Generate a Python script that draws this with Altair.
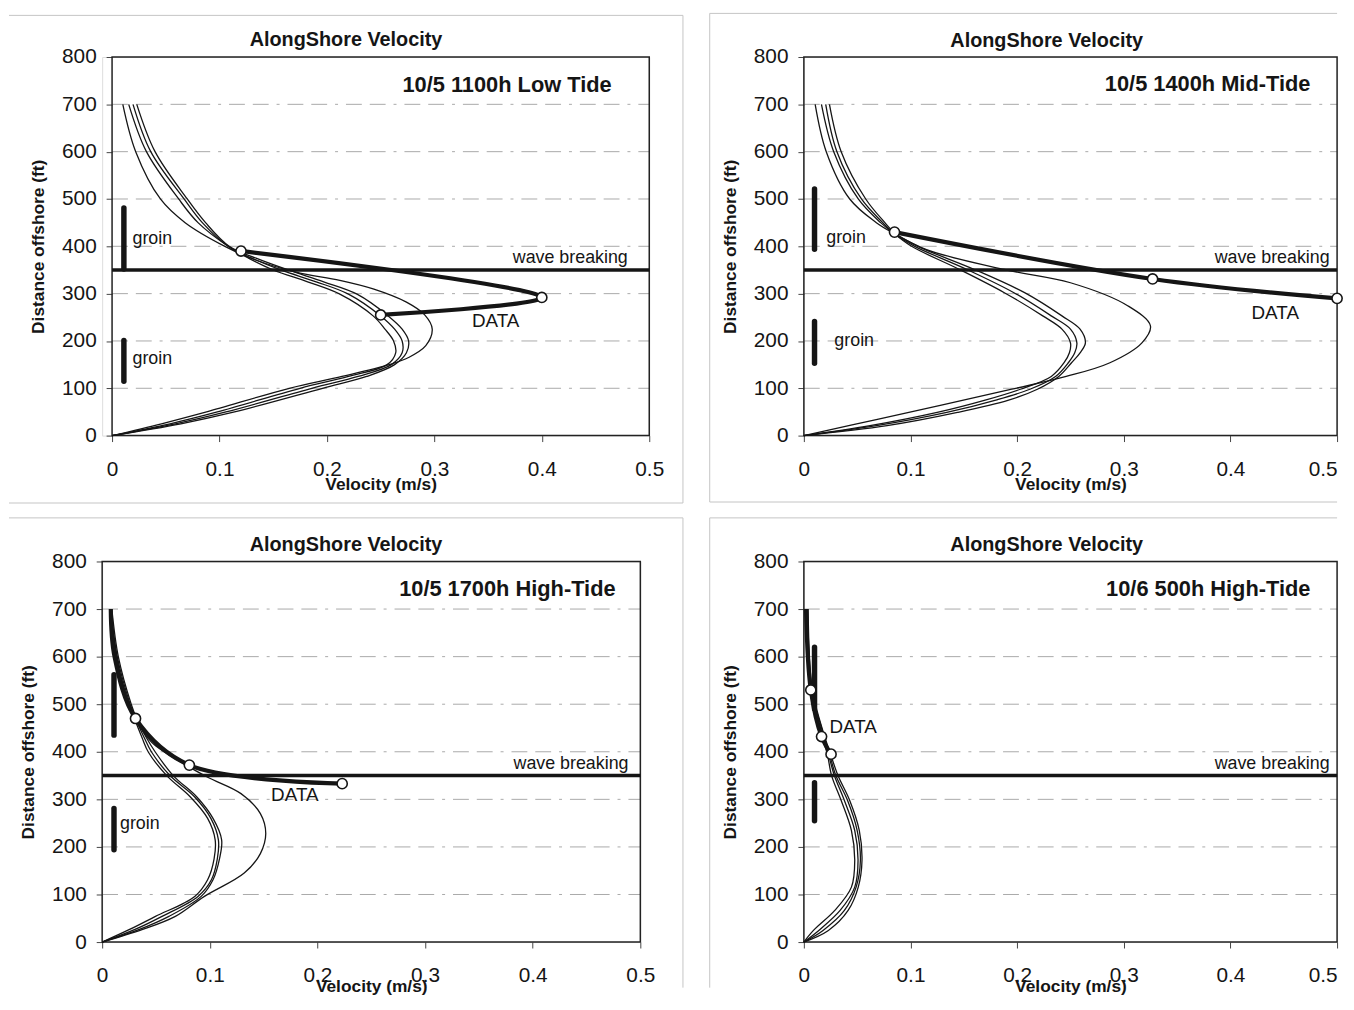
import altair as alt
import pandas as pd

FONT = "Liberation Sans"

# ---------------- data ----------------
GRID_D = [100, 200, 300, 400, 500, 600, 700]
X_TICKS = [0, 0.1, 0.2, 0.3, 0.4, 0.5]
Y_TICKS = [0, 100, 200, 300, 400, 500, 600, 700, 800]
WAVE_D = 350

# Panel 1 : 10/5 1100h Low Tide
P1_ABC_D = [0, 25, 50, 100, 125, 150, 175, 200, 225, 253, 299, 325, 350, 375, 400, 450, 500, 600, 700]
P1_A_V = [0, 0.054, 0.098, 0.175, 0.220, 0.256, 0.264, 0.262, 0.254, 0.243, 0.212, 0.182, 0.150, 0.127, 0.108, 0.080, 0.062, 0.032, 0.0155]
P1_B_V = [0, 0.059, 0.106, 0.186, 0.229, 0.260, 0.270, 0.270, 0.263, 0.250, 0.220, 0.190, 0.157, 0.130, 0.108, 0.084, 0.067, 0.036, 0.0195]
P1_C_V = [0, 0.064, 0.114, 0.196, 0.237, 0.263, 0.274, 0.276, 0.270, 0.257, 0.228, 0.197, 0.164, 0.134, 0.109, 0.087, 0.070, 0.040, 0.023]
P1_X_D = [0, 25, 50, 100, 125, 150, 165, 190, 225, 255, 282, 310, 328, 345, 370, 400, 450, 500, 600, 700]
P1_X_V = [0, 0.046, 0.088, 0.165, 0.214, 0.258, 0.276, 0.292, 0.298, 0.291, 0.274, 0.243, 0.212, 0.172, 0.135, 0.105, 0.068, 0.045, 0.022, 0.010]
P1_DATA_V = [0.12, 0.40, 0.25]
P1_DATA_D = [390, 292, 255]
P1_DATA_M = [True, True, True]
P1_GROIN_V = [0.011, 0.011]
P1_GROIN_LO = [352, 115]
P1_GROIN_HI = [481, 201]
P1_HEAD = "10/5 1100h Low Tide"
P1_HEAD_POS = (0.465, 741)
P1_WAVE_POS = (0.48, 375)
P1_DATA_LBL = (0.357, 243, "center")
P1_GROIN_LBL_V = [0.019, 0.019]
P1_GROIN_LBL_D = [415, 161]

# Panel 2 : 10/5 1400h Mid-Tide
P2_ABC_D = [0, 21, 49, 75, 98, 125, 154, 175, 196, 225, 253, 302, 351, 400, 428, 450, 500, 600, 700]
P2_A_V = [0, 0.062, 0.125, 0.170, 0.203, 0.232, 0.244, 0.249, 0.250, 0.242, 0.224, 0.188, 0.146, 0.101, 0.084, 0.072, 0.051, 0.028, 0.0165]
P2_B_V = [0, 0.068, 0.134, 0.180, 0.212, 0.236, 0.248, 0.254, 0.256, 0.250, 0.232, 0.197, 0.153, 0.104, 0.084, 0.074, 0.054, 0.031, 0.0205]
P2_C_V = [0, 0.078, 0.144, 0.192, 0.219, 0.239, 0.251, 0.259, 0.264, 0.259, 0.242, 0.207, 0.160, 0.107, 0.085, 0.076, 0.058, 0.035, 0.024]
P2_X_D = [0, 35, 98, 125, 154, 196, 232, 274, 323, 351, 393, 428, 450, 500, 600, 700]
P2_X_V = [0, 0.07, 0.195, 0.246, 0.287, 0.317, 0.325, 0.304, 0.250, 0.188, 0.115, 0.084, 0.068, 0.043, 0.021, 0.0106]
P2_DATA_V = [0.085, 0.327, 0.50]
P2_DATA_D = [430, 331, 290]
P2_DATA_M = [True, True, True]
P2_GROIN_V = [0.010, 0.010]
P2_GROIN_LO = [394, 153]
P2_GROIN_HI = [521, 241]
P2_HEAD = "10/5 1400h Mid-Tide"
P2_HEAD_POS = (0.475, 743)
P2_WAVE_POS = (0.493, 375)
P2_DATA_LBL = (0.442, 258, "center")
P2_GROIN_LBL_V = [0.021, 0.0286]
P2_GROIN_LBL_D = [417, 199]

# Panel 3 : 10/5 1700h High-Tide
P3_ABC_D = [0, 26, 54, 96, 131, 175, 215, 260, 305, 350, 399, 430, 470, 500, 600, 700]
P3_A_V = [0, 0.025, 0.0495, 0.086, 0.098, 0.104, 0.105, 0.098, 0.082, 0.060, 0.043, 0.037, 0.030, 0.025, 0.013, 0.008]
P3_B_V = [0, 0.030, 0.0556, 0.089, 0.1015, 0.107, 0.108, 0.101, 0.086, 0.063, 0.046, 0.039, 0.031, 0.026, 0.014, 0.008]
P3_C_V = [0, 0.034, 0.062, 0.092, 0.103, 0.109, 0.111, 0.103, 0.088, 0.066, 0.0495, 0.041, 0.032, 0.027, 0.015, 0.009]
P3_X_D = [0, 26, 54, 96, 145, 186, 228, 270, 312, 346, 372, 420, 470, 560, 700]
P3_X_V = [0, 0.037, 0.068, 0.095, 0.132, 0.147, 0.152, 0.147, 0.129, 0.0985, 0.078, 0.046, 0.031, 0.017, 0.008]
P3_DATA_V = [0.008, 0.0115, 0.031, 0.081, 0.223]
P3_DATA_D = [700, 600, 470, 372, 333]
P3_DATA_M = [False, False, True, True, True]
P3_GROIN_V = [0.011, 0.011]
P3_GROIN_LO = [435, 194]
P3_GROIN_HI = [562, 281]
P3_HEAD = "10/5 1700h High-Tide"
P3_HEAD_POS = (0.477, 742)
P3_WAVE_POS = (0.489, 375)
P3_DATA_LBL = (0.179, 308, "center")
P3_GROIN_LBL_V = [0.0166]
P3_GROIN_LBL_D = [248]

# Panel 4 : 10/6 500h High-Tide
P4_ALL_D = [0, 24.5, 66.5, 115.5, 171.5, 234.5, 297.5, 350, 395, 432, 530, 700]
P4_A_V = [0, 0.009, 0.029, 0.0446, 0.0477, 0.0446, 0.035, 0.026, 0.022, 0.017, 0.006, 0.002]
P4_B_V = [0, 0.014, 0.034, 0.0477, 0.0508, 0.0477, 0.038, 0.0286, 0.023, 0.018, 0.007, 0.003]
P4_C_V = [0, 0.018, 0.038, 0.049, 0.053, 0.050, 0.041, 0.030, 0.024, 0.019, 0.0075, 0.0035]
P4_E_V = [0, 0.023, 0.0415, 0.051, 0.0545, 0.052, 0.043, 0.032, 0.025, 0.0195, 0.008, 0.004]
P4_DATA_V = [0.002, 0.0065, 0.0166, 0.0255]
P4_DATA_D = [700, 530, 432, 395]
P4_DATA_M = [False, True, True, True]
P4_GROIN_V = [0.010, 0.010]
P4_GROIN_LO = [490, 255]
P4_GROIN_HI = [620, 335]
P4_HEAD = "10/6 500h High-Tide"
P4_HEAD_POS = (0.475, 742)
P4_WAVE_POS = (0.493, 374)
P4_DATA_LBL = (0.024, 451, "left")
P4_GROIN_LBL_V = []
P4_GROIN_LBL_D = []

TITLE = "AlongShore Velocity"

# ---------------- chart building ----------------
ys = alt.Scale(domain=[0, 800], nice=False, zero=False)
ONE = pd.DataFrame({"k": [0]})
INK = "#151515"


def curves_df(curves):
    rows = []
    for name, ds, vs in curves:
        for i, (d, v) in enumerate(zip(ds, vs)):
            rows.append({"curve": name, "o": i, "d": d, "v": v})
    return pd.DataFrame(rows)


def build(p):
    W, H = p["w"], p["h"]
    shift = p.get("shift", 0)          # plot area starts `shift` px inside the view
    xs = alt.Scale(domain=[0, 0.5], nice=False, zero=False, range=[shift, W])
    label_align = "center"
    if p.get("last_right"):
        label_align = {"condition": {"test": "datum.value >= 0.5", "value": "right"},
                       "value": "center"}
    xa = alt.Axis(values=X_TICKS, format=".1~f", title="Velocity (m/s)", grid=False,
                  domain=False, ticks=True, tickSize=6, tickColor="#444",
                  labelFont=FONT, labelFontSize=21, labelColor=INK, labelPadding=17,
                  labelFlush=False, labelOverlap=False, labelAlign=label_align,
                  titleFont=FONT, titleFontSize=17.5, titleFontWeight="bold", titleColor=INK,
                  titleBaseline="top", titleY=p["xtitle_y"])
    ya = alt.Axis(values=Y_TICKS, title="Distance offshore (ft)", grid=False,
                  domain=False, ticks=True, tickSize=6, tickColor="#444",
                  labelFont=FONT, labelFontSize=21, labelColor=INK, labelPadding=10,
                  labelOverlap=False, offset=-shift,
                  titleFont=FONT, titleFontSize=17.5, titleFontWeight="bold", titleColor=INK,
                  titleBaseline="middle", titleX=-74, titleY=H / 2, titleAngle=270)

    def X(f):
        return alt.X(f, type="quantitative", scale=xs, axis=xa)

    def Y(f):
        return alt.Y(f, type="quantitative", scale=ys, axis=ya)

    layers = []
    grid = pd.DataFrame({"d": GRID_D, "v0": [0] * len(GRID_D), "v1": [0.5] * len(GRID_D)})
    layers.append(alt.Chart(grid).mark_rule(color="#a9a9a9", strokeWidth=1,
                                            strokeDash=[16, 8, 16, 8, 3, 8])
                  .encode(x=X("v0"), x2="v1", y=Y("d")))
    for (x1, x2, y1, y2) in p["frame"]:
        layers.append(alt.Chart(ONE).mark_rule(color="#c4c4c4", strokeWidth=1)
                      .encode(x=alt.value(x1), x2=alt.value(x2), y=alt.value(y1), y2=alt.value(y2)))
    border = pd.DataFrame({"v0": [0], "v1": [0.5], "d0": [0], "d1": [800]})
    layers.append(alt.Chart(border).mark_rect(fillOpacity=0, stroke="#222", strokeWidth=1.5)
                  .encode(x=X("v0"), x2="v1", y=Y("d0"), y2="d1"))
    wave = pd.DataFrame({"d": [WAVE_D], "v0": [0], "v1": [0.5]})
    layers.append(alt.Chart(wave).mark_rule(color=INK, strokeWidth=3.5)
                  .encode(x=X("v0"), x2="v1", y=Y("d")))
    g = pd.DataFrame({"v": p["groin_v"], "d1": p["groin_lo"], "d2": p["groin_hi"]})
    layers.append(alt.Chart(g).mark_rule(color=INK, strokeWidth=5.5, strokeCap="round")
                  .encode(x=X("v"), y=Y("d1"), y2="d2"))
    layers.append(alt.Chart(curves_df(p["curves"])).mark_line(
        interpolate="catmull-rom", color=INK, strokeWidth=1.3)
        .encode(x=X("v"), y=Y("d"), detail="curve:N", order="o:Q"))
    dd = pd.DataFrame({"v": p["data_v"], "d": p["data_d"], "m": p["data_m"],
                       "o": list(range(len(p["data_v"])))})
    layers.append(alt.Chart(dd).mark_line(interpolate="catmull-rom", color=INK, strokeWidth=4.2)
                  .encode(x=X("v"), y=Y("d"), order="o:Q"))
    layers.append(alt.Chart(dd).transform_filter("datum.m").mark_circle(
        color="white", stroke=INK, strokeWidth=1.6, size=105, opacity=1)
        .encode(x=X("v"), y=Y("d")))
    hv, hd = p["head_pos"]
    layers.append(alt.Chart(pd.DataFrame({"v": [hv], "d": [hd], "t": [p["head"]]}))
                  .mark_text(font=FONT, fontSize=22, fontWeight="bold", color=INK,
                             align="right", baseline="middle")
                  .encode(x=X("v"), y=Y("d"), text="t:N"))
    wv, wd = p["wave_pos"]
    layers.append(alt.Chart(pd.DataFrame({"v": [wv], "d": [wd], "t": ["wave breaking"]}))
                  .mark_text(font=FONT, fontSize=18, color=INK, align="right", baseline="middle")
                  .encode(x=X("v"), y=Y("d"), text="t:N"))
    lv, ld, la = p["data_lbl"]
    layers.append(alt.Chart(pd.DataFrame({"v": [lv], "d": [ld], "t": ["DATA"]}))
                  .mark_text(font=FONT, fontSize=19, color=INK, align=la, baseline="middle")
                  .encode(x=X("v"), y=Y("d"), text="t:N"))
    if p["groin_lbl_v"]:
        gl = pd.DataFrame({"v": p["groin_lbl_v"], "d": p["groin_lbl_d"],
                           "t": ["groin"] * len(p["groin_lbl_v"])})
        layers.append(alt.Chart(gl).mark_text(font=FONT, fontSize=18, color=INK,
                                              align="left", baseline="middle")
                      .encode(x=X("v"), y=Y("d"), text="t:N"))
    tx, ty = p["title_xy"]
    layers.append(alt.Chart(pd.DataFrame({"t": [TITLE]})).mark_text(
        font=FONT, fontSize=20, fontWeight="bold", color=INK, align="center",
        baseline="alphabetic").encode(x=alt.value(tx), y=alt.value(ty), text="t:N"))

    return alt.layer(*layers).properties(width=W, height=H)


panels = [
    dict(w=552, shift=10, h=382, xtitle_y=40,
         curves=[("A", P1_ABC_D, P1_A_V), ("B", P1_ABC_D, P1_B_V), ("C", P1_ABC_D, P1_C_V),
                 ("X", P1_X_D, P1_X_V)],
         data_v=P1_DATA_V, data_d=P1_DATA_D, data_m=P1_DATA_M,
         groin_v=P1_GROIN_V, groin_lo=P1_GROIN_LO, groin_hi=P1_GROIN_HI,
         head=P1_HEAD, head_pos=P1_HEAD_POS, wave_pos=P1_WAVE_POS, data_lbl=P1_DATA_LBL,
         groin_lbl_v=P1_GROIN_LBL_V, groin_lbl_d=P1_GROIN_LBL_D,
         frame=[(-94, 586, -42, -42), (586, 586, -42, 450), (-94, 586, 450, 450)],
         title_xy=(246, -11)),
    dict(w=538, h=382, xtitle_y=40, last_right=True,
         curves=[("A", P2_ABC_D, P2_A_V), ("B", P2_ABC_D, P2_B_V), ("C", P2_ABC_D, P2_C_V),
                 ("X", P2_X_D, P2_X_V)],
         data_v=P2_DATA_V, data_d=P2_DATA_D, data_m=P2_DATA_M,
         groin_v=P2_GROIN_V, groin_lo=P2_GROIN_LO, groin_hi=P2_GROIN_HI,
         head=P2_HEAD, head_pos=P2_HEAD_POS, wave_pos=P2_WAVE_POS, data_lbl=P2_DATA_LBL,
         groin_lbl_v=P2_GROIN_LBL_V, groin_lbl_d=P2_GROIN_LBL_D,
         frame=[(-95, 538, -44, -44), (-95, -95, -44, 449), (-95, 538, 449, 449)],
         title_xy=(245, -10)),
    dict(w=543, h=384, xtitle_y=36,
         curves=[("A", P3_ABC_D, P3_A_V), ("B", P3_ABC_D, P3_B_V), ("C", P3_ABC_D, P3_C_V),
                 ("X", P3_X_D, P3_X_V)],
         data_v=P3_DATA_V, data_d=P3_DATA_D, data_m=P3_DATA_M,
         groin_v=P3_GROIN_V, groin_lo=P3_GROIN_LO, groin_hi=P3_GROIN_HI,
         head=P3_HEAD, head_pos=P3_HEAD_POS, wave_pos=P3_WAVE_POS, data_lbl=P3_DATA_LBL,
         groin_lbl_v=P3_GROIN_LBL_V, groin_lbl_d=P3_GROIN_LBL_D,
         frame=[(-94, 586, -44, -44), (586, 586, -44, 430)],
         title_xy=(246, -11)),
    dict(w=538, h=384, xtitle_y=36, last_right=True,
         curves=[("A", P4_ALL_D, P4_A_V), ("B", P4_ALL_D, P4_B_V), ("C", P4_ALL_D, P4_C_V),
                 ("E", P4_ALL_D, P4_E_V)],
         data_v=P4_DATA_V, data_d=P4_DATA_D, data_m=P4_DATA_M,
         groin_v=P4_GROIN_V, groin_lo=P4_GROIN_LO, groin_hi=P4_GROIN_HI,
         head=P4_HEAD, head_pos=P4_HEAD_POS, wave_pos=P4_WAVE_POS, data_lbl=P4_DATA_LBL,
         groin_lbl_v=P4_GROIN_LBL_V, groin_lbl_d=P4_GROIN_LBL_D,
         frame=[(-95, 538, -44, -44), (-95, -95, -44, 430)],
         title_xy=(245, -11)),
]

charts = [build(p) for p in panels]

chart = alt.concat(*charts, columns=2, spacing={"row": 13, "column": 25}).properties(
    padding=0, background="white"
).configure_view(strokeWidth=0).configure(font=FONT)

chart.save("out.html", embed_options={"renderer": "svg", "actions": False})
